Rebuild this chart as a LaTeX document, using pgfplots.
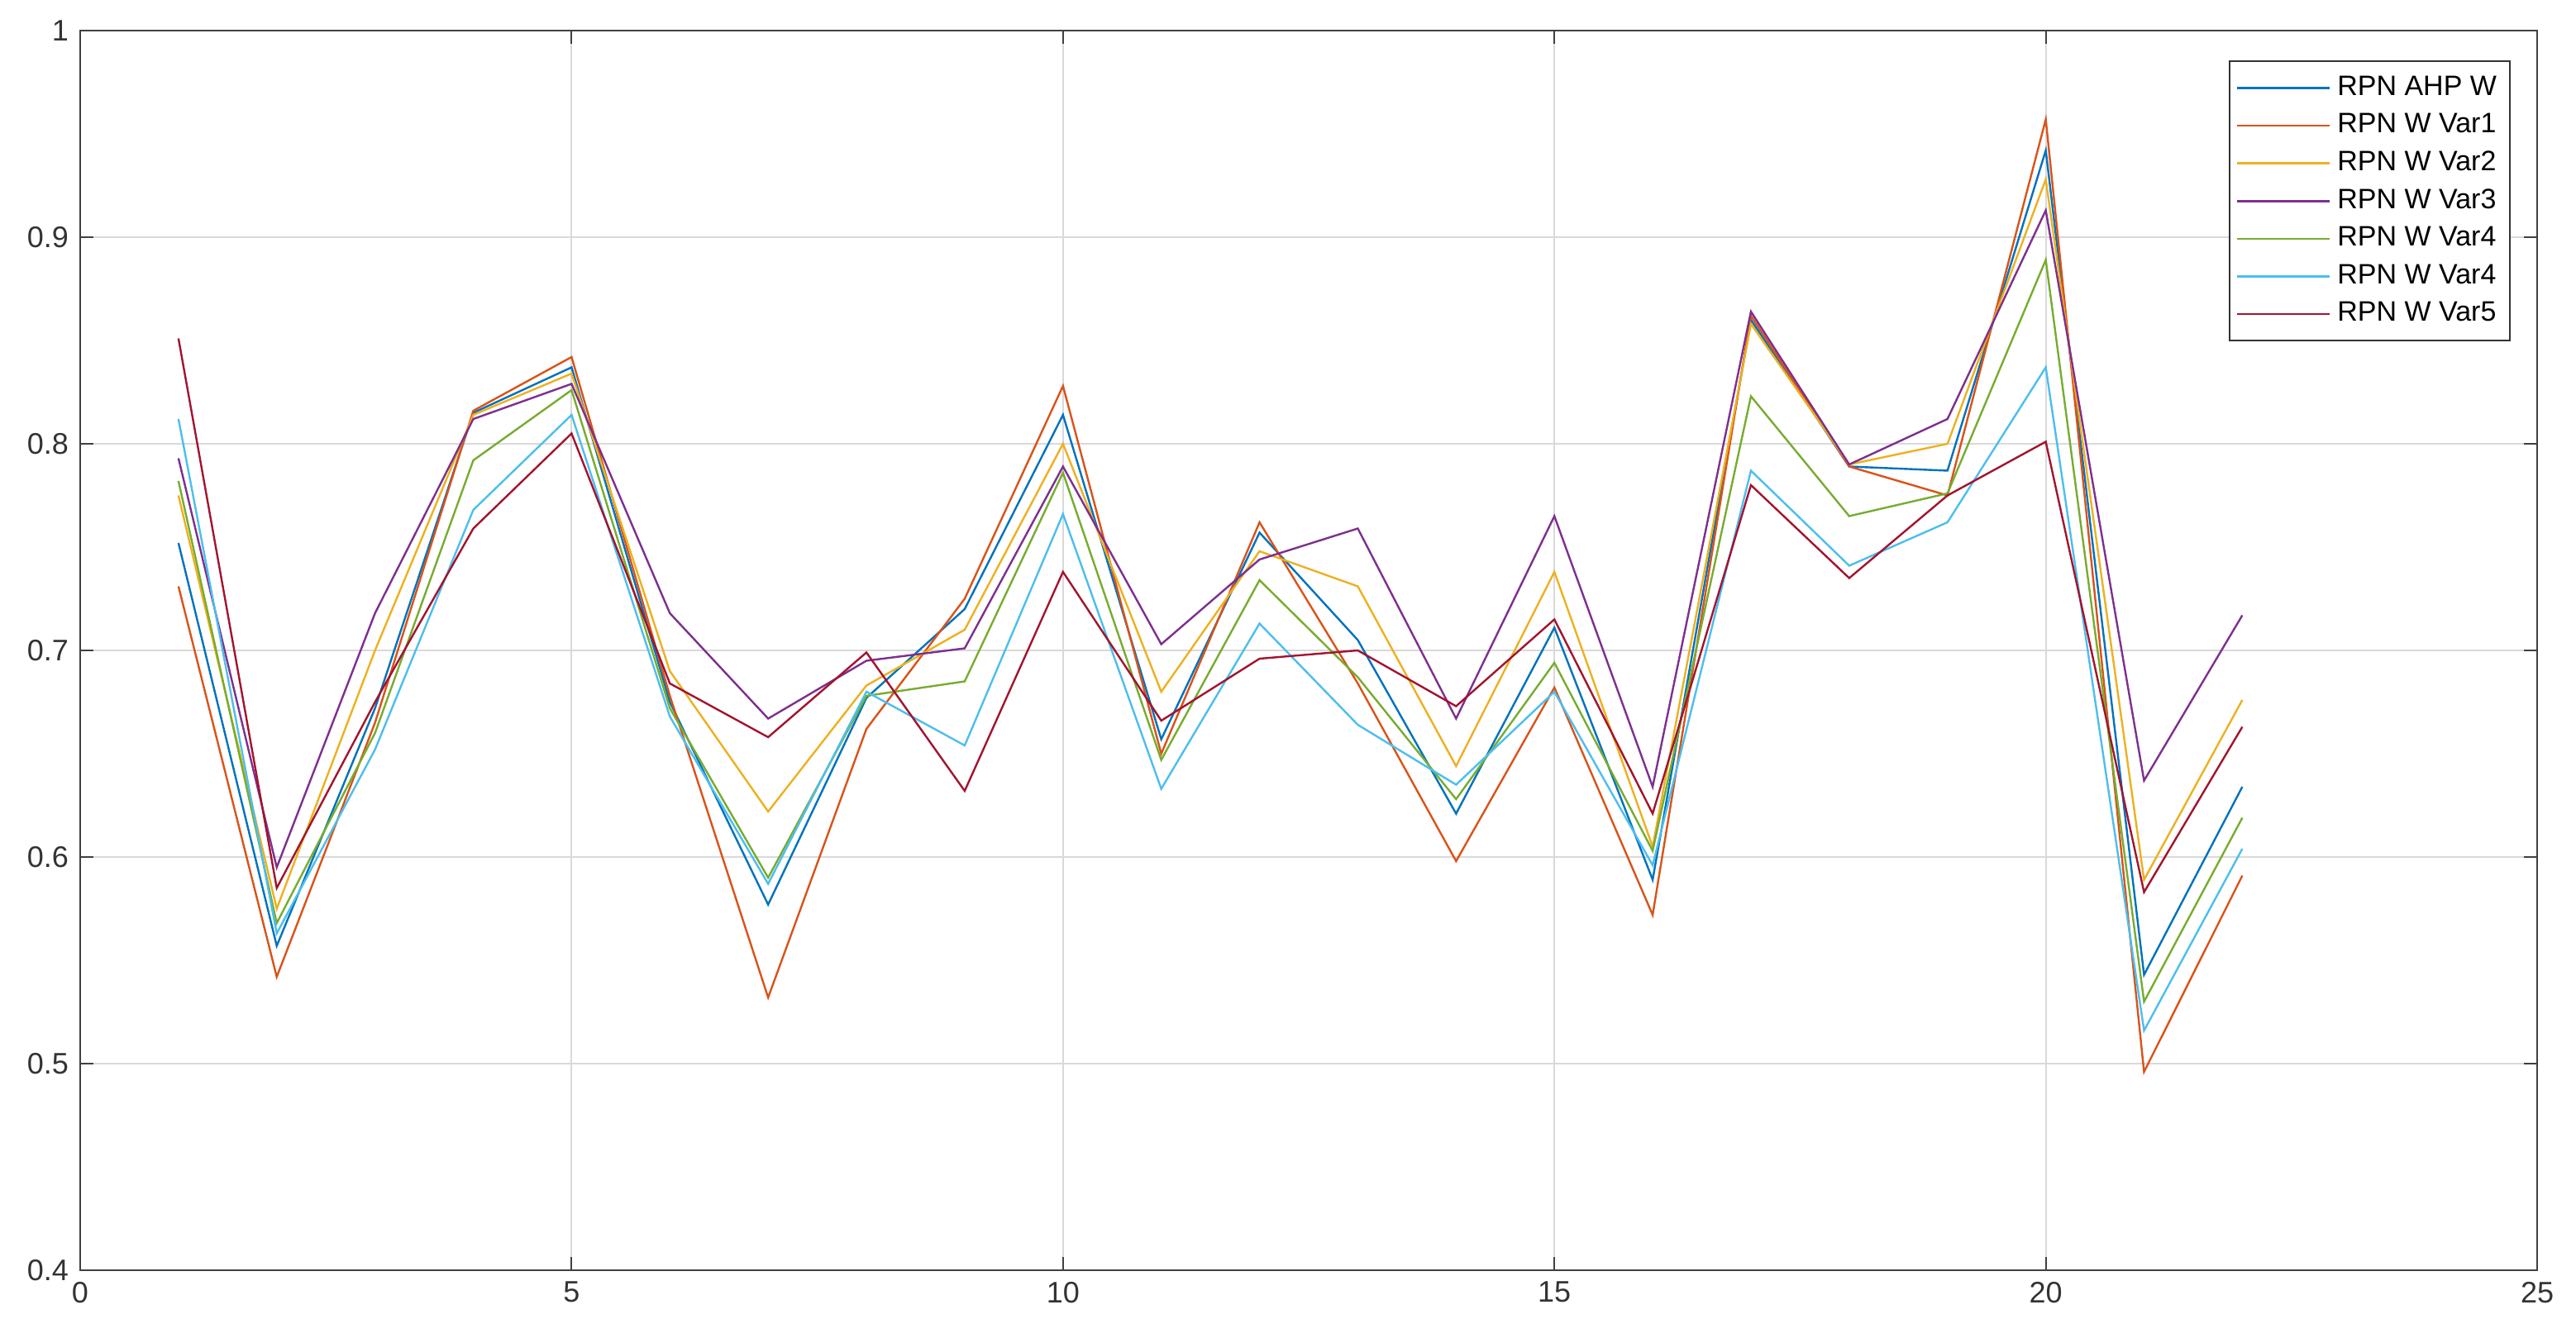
\documentclass[border=0pt]{standalone}
\usepackage{pgfplots}
\pgfplotsset{compat=1.18}
\usepackage{fontspec}
\setmainfont{Liberation Sans}
\definecolor{mblue}{RGB}{0,114,189}
\definecolor{morange}{RGB}{217,83,25}
\definecolor{myellow}{RGB}{237,177,32}
\definecolor{mpurple}{RGB}{126,47,142}
\definecolor{mgreen}{RGB}{119,172,48}
\definecolor{mcyan}{RGB}{77,190,238}
\definecolor{mred}{RGB}{162,20,47}
\begin{document}
\begin{tikzpicture}
\begin{axis}[
  scale only axis, width=743pt, height=375pt,
  xmin=0, xmax=25, ymin=0.4, ymax=1,
  xtick={0,5,10,15,20,25}, ytick={0.4,0.5,0.6,0.7,0.8,0.9,1},
  yticklabel style={/pgf/number format/fixed,/pgf/number format/precision=1},
  /pgf/number format/assume math mode=true,
  ticklabel style={font=\fontsize{9}{10}\selectfont, color=black!80},
  grid=major, grid style={black!15, line width=0.5pt},
  axis line style={black!75, line width=0.5pt},
  tick style={black!75, line width=0.5pt},
  major tick length=4pt, tick align=inside,
  every axis plot/.append style={line width=0.6pt, mark=none},
  legend style={at={(rel axis cs:1,1)}, anchor=north east, xshift=-8pt, yshift=-9pt,
    draw=black!80, line width=0.5pt, fill=white, font=\fontsize{8.5}{10}\selectfont,
    inner xsep=2pt, inner ysep=2.5pt, row sep=0pt},
  legend cell align=left,
  legend image code/.code={\draw[#1] (0pt,0pt) -- (28pt,0pt);},
]
\addplot[mblue] coordinates {(1,0.752)(2,0.557)(3,0.672)(4,0.815)(5,0.837)(6,0.675)(7,0.577)(8,0.677)(9,0.720)(10,0.814)(11,0.657)(12,0.757)(13,0.705)(14,0.621)(15,0.711)(16,0.589)(17,0.860)(18,0.789)(19,0.787)(20,0.942)(21,0.543)(22,0.634)};
\addplot[morange] coordinates {(1,0.731)(2,0.542)(3,0.665)(4,0.816)(5,0.842)(6,0.678)(7,0.532)(8,0.662)(9,0.725)(10,0.828)(11,0.650)(12,0.762)(13,0.684)(14,0.598)(15,0.682)(16,0.572)(17,0.862)(18,0.789)(19,0.775)(20,0.957)(21,0.496)(22,0.591)};
\addplot[myellow] coordinates {(1,0.775)(2,0.575)(3,0.700)(4,0.814)(5,0.834)(6,0.690)(7,0.622)(8,0.683)(9,0.710)(10,0.800)(11,0.680)(12,0.748)(13,0.731)(14,0.644)(15,0.738)(16,0.605)(17,0.858)(18,0.790)(19,0.800)(20,0.928)(21,0.589)(22,0.676)};
\addplot[mpurple] coordinates {(1,0.793)(2,0.595)(3,0.718)(4,0.812)(5,0.829)(6,0.718)(7,0.667)(8,0.695)(9,0.701)(10,0.789)(11,0.703)(12,0.744)(13,0.759)(14,0.667)(15,0.765)(16,0.634)(17,0.864)(18,0.790)(19,0.812)(20,0.913)(21,0.637)(22,0.717)};
\addplot[mgreen] coordinates {(1,0.782)(2,0.568)(3,0.660)(4,0.792)(5,0.826)(6,0.672)(7,0.590)(8,0.678)(9,0.685)(10,0.786)(11,0.647)(12,0.734)(13,0.687)(14,0.628)(15,0.694)(16,0.603)(17,0.823)(18,0.765)(19,0.776)(20,0.889)(21,0.530)(22,0.619)};
\addplot[mcyan] coordinates {(1,0.812)(2,0.563)(3,0.652)(4,0.768)(5,0.814)(6,0.668)(7,0.587)(8,0.680)(9,0.654)(10,0.766)(11,0.633)(12,0.713)(13,0.664)(14,0.635)(15,0.680)(16,0.596)(17,0.787)(18,0.741)(19,0.762)(20,0.837)(21,0.516)(22,0.604)};
\addplot[mred] coordinates {(1,0.851)(2,0.585)(3,0.675)(4,0.759)(5,0.805)(6,0.684)(7,0.658)(8,0.699)(9,0.632)(10,0.738)(11,0.666)(12,0.696)(13,0.700)(14,0.673)(15,0.715)(16,0.621)(17,0.780)(18,0.735)(19,0.775)(20,0.801)(21,0.583)(22,0.663)};
\legend{RPN AHP W, RPN W Var1, RPN W Var2, RPN W Var3, RPN W Var4, RPN W Var4, RPN W Var5}
\end{axis}
\pgfresetboundingbox
\path (current axis.south west) ++(-24.25pt,-20.25pt) rectangle ++(779pt,404.5pt);
\end{tikzpicture}
\end{document}
